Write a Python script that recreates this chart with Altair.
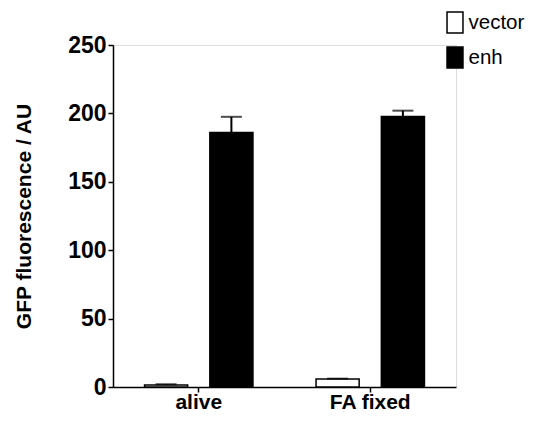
import altair as alt
import pandas as pd

conditions = ["alive", "alive", "FA fixed", "FA fixed"]
groups = ["vector", "enh", "vector", "enh"]
means = [1.5, 186.0, 5.8, 197.8]
errors = [0.5, 11.5, 0.3, 4.2]

df = pd.DataFrame({
    "condition": conditions,
    "group": groups,
    "mean": means,
    "upper": [m + e for m, e in zip(means, errors)],
})

FONT = "Liberation Sans"
cond_order = ["alive", "FA fixed"]
grp_order = ["vector", "enh"]

x_enc = alt.X(
    "condition:N",
    sort=cond_order,
    scale=alt.Scale(paddingInner=0.368, paddingOuter=0.184),
    axis=alt.Axis(title=None, labelAngle=0, labelFontSize=21, labelFontWeight="bold",
                  labelFont=FONT, labelColor="black", labelPadding=16,
                  labelBaseline="alphabetic",
                  tickSize=5, tickWidth=1.5, tickColor="black",
                  domainColor="black", domainWidth=1.5),
)
xoff = alt.XOffset("group:N", sort=grp_order,
                   scale=alt.Scale(paddingInner=0.34, paddingOuter=0))
y_enc = alt.Y(
    "mean:Q",
    scale=alt.Scale(domain=[0, 250], nice=False),
    axis=alt.Axis(title="GFP fluorescence / AU", values=[0, 50, 100, 150, 200, 250],
                  labelFontSize=23, labelFontWeight="bold", labelFont=FONT,
                  labelColor="black", labelPadding=2,
                  titleFontSize=21, titleFont=FONT, titleFontWeight="bold",
                  titleColor="black", titlePadding=33,
                  tickSize=5, tickWidth=1.5, tickColor="black",
                  domainColor="black", domainWidth=1.5, grid=False),
)

bars = alt.Chart(df).mark_bar(stroke="black", strokeWidth=1.5).encode(
    x=x_enc,
    xOffset=xoff,
    y=y_enc,
    fill=alt.Fill(
        "group:N",
        sort=grp_order,
        scale=alt.Scale(domain=grp_order, range=["white", "black"]),
        legend=alt.Legend(
            title=None, orient="none", legendX=330.5, legendY=-34,
            symbolType="M-0.76,-1H0.76V1H-0.76Z", symbolSize=441,
            symbolStrokeColor="black", symbolStrokeWidth=1.5,
            labelFontSize=20.5, labelFont=FONT, labelColor="black",
            labelOffset=2, rowPadding=8, padding=0,
        ),
    ),
)

rules = alt.Chart(df).mark_rule(color="black", strokeWidth=2).encode(
    x=alt.X("condition:N", sort=cond_order),
    xOffset=xoff,
    y="mean:Q",
    y2="upper:Q",
)

caps = alt.Chart(df).mark_tick(color="black", thickness=2, size=21,
                               orient="horizontal").encode(
    x=alt.X("condition:N", sort=cond_order),
    xOffset=xoff,
    y="upper:Q",
)

chart = alt.layer(bars, rules, caps).properties(
    width=343, height=342,
    autosize=alt.AutoSizeParams(type="none"),
    padding={"left": 105, "top": 37, "right": 71, "bottom": 26},
).configure_view(stroke=None).configure(background="white")

chart.save("out.html", embed_options={"renderer": "svg", "actions": False})
